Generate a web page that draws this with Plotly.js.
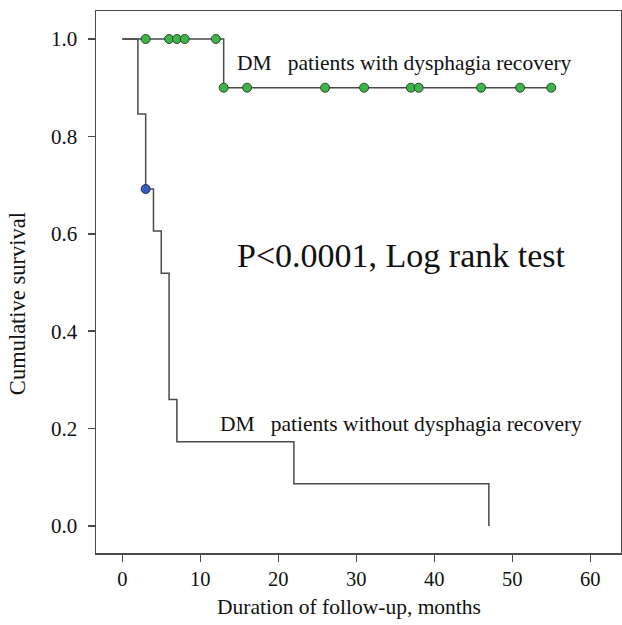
<!DOCTYPE html>
<html>
<head>
<meta charset="utf-8">
<script src="https://cdn.plot.ly/plotly-3.0.1.min.js"></script>
<style>html,body{margin:0;padding:0;background:#fff;}#chart{width:622px;height:625px;}</style>
</head>
<body>
<div id="chart"></div>
<script>
// Group with dysphagia recovery: survival steps
const recTime = [0, 13, 55];
const recSurv = [1.0, 0.9, 0.9];
// censored observations (with recovery)
const recCensTime = [3, 6, 7, 8, 12, 13, 16, 26, 31, 37, 38, 46, 51, 55];
const recCensSurv = [1, 1, 1, 1, 1, 0.9, 0.9, 0.9, 0.9, 0.9, 0.9, 0.9, 0.9, 0.9];

// Group without dysphagia recovery: survival steps
const noRecTime = [0, 2, 3, 4, 5, 6, 7, 22, 47];
const noRecSurv = [1.0, 0.846, 0.692, 0.606, 0.519, 0.260, 0.173, 0.087, 0.0];
// censored observation (without recovery)
const noRecCensTime = [3];
const noRecCensSurv = [0.692];

const xTicks = [0, 10, 20, 30, 40, 50, 60];
const yTicks = [0.0, 0.2, 0.4, 0.6, 0.8, 1.0];

const serif = '"Liberation Serif", "Times New Roman", serif';
const lineCol = '#4a4a4a';
const txtCol = '#111';

const traces = [
  {x: noRecTime, y: noRecSurv, mode: 'lines', line: {shape: 'hv', color: lineCol, width: 1.5}, hoverinfo: 'skip'},
  {x: recTime, y: recSurv, mode: 'lines', line: {shape: 'hv', color: lineCol, width: 1.5}, hoverinfo: 'skip'},
  {x: recCensTime, y: recCensSurv, mode: 'markers',
   marker: {size: 9, color: '#3cb44a', line: {color: '#2b4a2b', width: 1}}},
  {x: noRecCensTime, y: noRecCensSurv, mode: 'markers',
   marker: {size: 9, color: '#3a5bc0', line: {color: '#22305a', width: 1}}}
];

const layout = {
  width: 622, height: 625,
  margin: {l: 96, r: 1, t: 11, b: 72},
  paper_bgcolor: '#fff', plot_bgcolor: '#fff',
  showlegend: false,
  font: {family: serif, color: txtCol, size: 21},
  xaxis: {
    range: [-3.37, 63.94], tickvals: xTicks, ticks: 'outside', ticklen: 7, tickwidth: 1.5,
    tickcolor: lineCol, showline: true, linecolor: lineCol, linewidth: 1.5, mirror: true,
    showgrid: false, zeroline: false, tickfont: {family: serif, size: 20.5, color: txtCol}
  },
  yaxis: {
    range: [-0.0554, 1.0575], tickvals: yTicks, tickformat: '.1f', ticks: 'outside', ticklen: 7, tickwidth: 1.5,
    tickcolor: lineCol, showline: true, linecolor: lineCol, linewidth: 1.5, mirror: true,
    showgrid: false, zeroline: false, tickfont: {family: serif, size: 21, color: txtCol},
    ticklabelstandoff: 6
  },
  annotations: [
    // axis titles
    {x: 0.482, y: -0.0996, xref: 'paper', yref: 'paper', xanchor: 'center', yanchor: 'middle', showarrow: false,
     text: 'Duration of follow-up, months', font: {family: serif, size: 21.5, color: txtCol}},
    {x: -0.1505, y: 0.461, xref: 'paper', yref: 'paper', xanchor: 'center', yanchor: 'middle', showarrow: false,
     textangle: -90, text: 'Cumulative survival', font: {family: serif, size: 22.5, color: txtCol}},
    // curve labels
    {x: 14.45, y: 0.951, xref: 'x', yref: 'y', xanchor: 'left', yanchor: 'middle', showarrow: false,
     text: 'DM\u00a0\u00a0 patients with dysphagia recovery', font: {family: serif, size: 21.5, color: txtCol}},
    {x: 12.3, y: 0.2095, xref: 'x', yref: 'y', xanchor: 'left', yanchor: 'middle', showarrow: false,
     text: 'DM\u00a0\u00a0 patients without dysphagia recovery', font: {family: serif, size: 21.5, color: txtCol}},
    {x: 14.45, y: 0.556, xref: 'x', yref: 'y', xanchor: 'left', yanchor: 'middle', showarrow: false,
     text: 'P<0.0001, Log rank test', font: {family: serif, size: 34, color: txtCol}}
  ]
};

Plotly.newPlot('chart', traces, layout, {displayModeBar: false, staticPlot: true});
</script>
</body>
</html>
